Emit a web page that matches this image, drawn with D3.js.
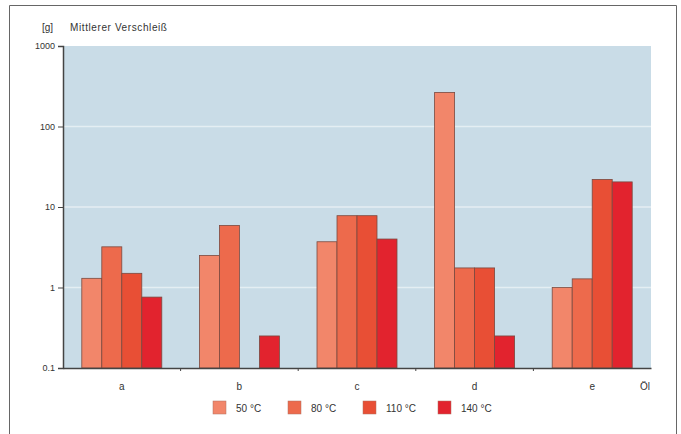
<!DOCTYPE html>
<html>
<head>
<meta charset="utf-8">
<script src="https://cdn.jsdelivr.net/npm/d3@7"></script>
<style>
  body { margin: 0; background: #fff; }
  text { font-family: "Liberation Sans", Arial, sans-serif; fill: #333; }
</style>
</head>
<body>
<div id="chart"></div>
<script>
// data
var oils = ["a", "b", "c", "d", "e"];
var temps = ["50 °C", "80 °C", "110 °C", "140 °C"];
var wear50 = [1.3, 2.5, 3.7, 265, 1.0];
var wear80 = [3.2, 5.9, 7.8, 1.75, 1.28];
var wear110 = [1.5, null, 7.8, 1.75, 22];
var wear140 = [0.76, 0.25, 4.0, 0.25, 20.5];
var yTicks = [0.1, 1, 10, 100, 1000];
var colors = ["#f2866a", "#ed6a4c", "#e84f35", "#e2232e"];

function drawChart() {
    var series = [wear50, wear80, wear110, wear140];

    var width = 681, height = 434;
    var svg = d3.select("#chart").append("svg")
        .attr("width", width)
        .attr("height", height);

    // outer frame (no bottom edge)
    svg.append("path")
        .attr("d", "M9.5,434 V5.5 H676.5 V434")
        .attr("fill", "none")
        .attr("stroke", "#666")
        .attr("stroke-width", 1);

    var plotLeft = 63, plotRight = 651, plotTop = 46, plotBottom = 368;

    var x = d3.scaleBand()
        .domain(oils)
        .range([plotLeft, plotRight]);

    var x1 = d3.scaleBand()
        .domain(d3.range(temps.length))
        .range([0, 80]);

    var y = d3.scaleLog()
        .domain([0.1, 1000])
        .range([plotBottom, plotTop]);

    // plot background
    svg.append("rect")
        .attr("x", plotLeft)
        .attr("y", plotTop)
        .attr("width", plotRight - plotLeft)
        .attr("height", plotBottom - plotTop)
        .attr("fill", "#c9dce7");

    // grid lines
    svg.append("g")
        .selectAll("line")
        .data(yTicks.slice(1, -1))
        .join("line")
        .attr("x1", plotLeft)
        .attr("x2", plotRight)
        .attr("y1", function (d) { return y(d); })
        .attr("y2", function (d) { return y(d); })
        .attr("stroke", "#e4eef3")
        .attr("stroke-width", 1.5);

    // bars
    var groups = svg.append("g")
        .selectAll("g")
        .data(oils)
        .join("g")
        .attr("transform", function (d) {
            return "translate(" + (x(d) + (x.bandwidth() - 80) / 2) + ",0)";
        });

    groups.selectAll("rect")
        .data(function (d, i) {
            return series.map(function (s, j) { return { t: j, v: s[i] }; })
                .filter(function (e) { return e.v != null; });
        })
        .join("rect")
        .attr("x", function (d) { return x1(d.t); })
        .attr("width", x1.bandwidth())
        .attr("y", function (d) { return y(d.v); })
        .attr("height", function (d) { return plotBottom - y(d.v); })
        .attr("fill", function (d) { return colors[d.t]; })
        .attr("stroke", "#7a4a40")
        .attr("stroke-width", 0.8);

    // y axis
    var yAxis = svg.append("g")
        .attr("transform", "translate(" + plotLeft + ",0)")
        .call(d3.axisLeft(y).tickValues(yTicks).tickFormat(d3.format("~g")).tickSize(5).tickPadding(3));
    yAxis.select(".domain").attr("stroke", "#444").attr("stroke-width", 1.5);
    yAxis.selectAll(".tick line").attr("stroke", "#444");
    yAxis.selectAll(".tick text")
        .style("font-size", "9px")
        .style("font-family", "Liberation Sans, Arial, sans-serif")
        .attr("fill", "#444");

    // x axis
    var xAxis = svg.append("g")
        .attr("transform", "translate(0," + plotBottom + ")")
        .call(d3.axisBottom(x).tickSize(0).tickPadding(15));
    xAxis.select(".domain").attr("stroke", "#444").attr("stroke-width", 1.5);
    xAxis.selectAll(".tick text")
        .style("font-size", "10px")
        .style("font-family", "Liberation Sans, Arial, sans-serif")
        .attr("fill", "#444");

    // small ticks between categories
    svg.append("g")
        .selectAll("line")
        .data(oils.slice(1))
        .join("line")
        .attr("x1", function (d) { return x(d); })
        .attr("x2", function (d) { return x(d); })
        .attr("y1", plotBottom)
        .attr("y2", plotBottom + 3)
        .attr("stroke", "#444");

    svg.append("text")
        .attr("x", plotRight - 11)
        .attr("y", plotBottom + 22)
        .style("font-size", "10px")
        .attr("fill", "#444")
        .text("Öl");

    // title
    svg.append("text")
        .attr("x", 42)
        .attr("y", 31)
        .style("font-size", "10px")
        .attr("fill", "#333")
        .text("[g]");
    svg.append("text")
        .attr("x", 70)
        .attr("y", 31)
        .style("font-size", "10px")
        .style("letter-spacing", "0.6px")
        .attr("fill", "#333")
        .text("Mittlerer Verschleiß");

    // legend
    var legend = svg.append("g")
        .selectAll("g")
        .data(temps)
        .join("g")
        .attr("transform", function (d, i) { return "translate(" + (213 + i * 75) + ",401)"; });

    legend.append("rect")
        .attr("width", 13)
        .attr("height", 13)
        .attr("fill", function (d, i) { return colors[i]; })
        .attr("stroke", "#b07060")
        .attr("stroke-width", 0.5);

    legend.append("text")
        .attr("x", 23)
        .attr("y", 11)
        .style("font-size", "10px")
        .attr("fill", "#444")
        .text(function (d) { return d; });
}

drawChart();
</script>
</body>
</html>
